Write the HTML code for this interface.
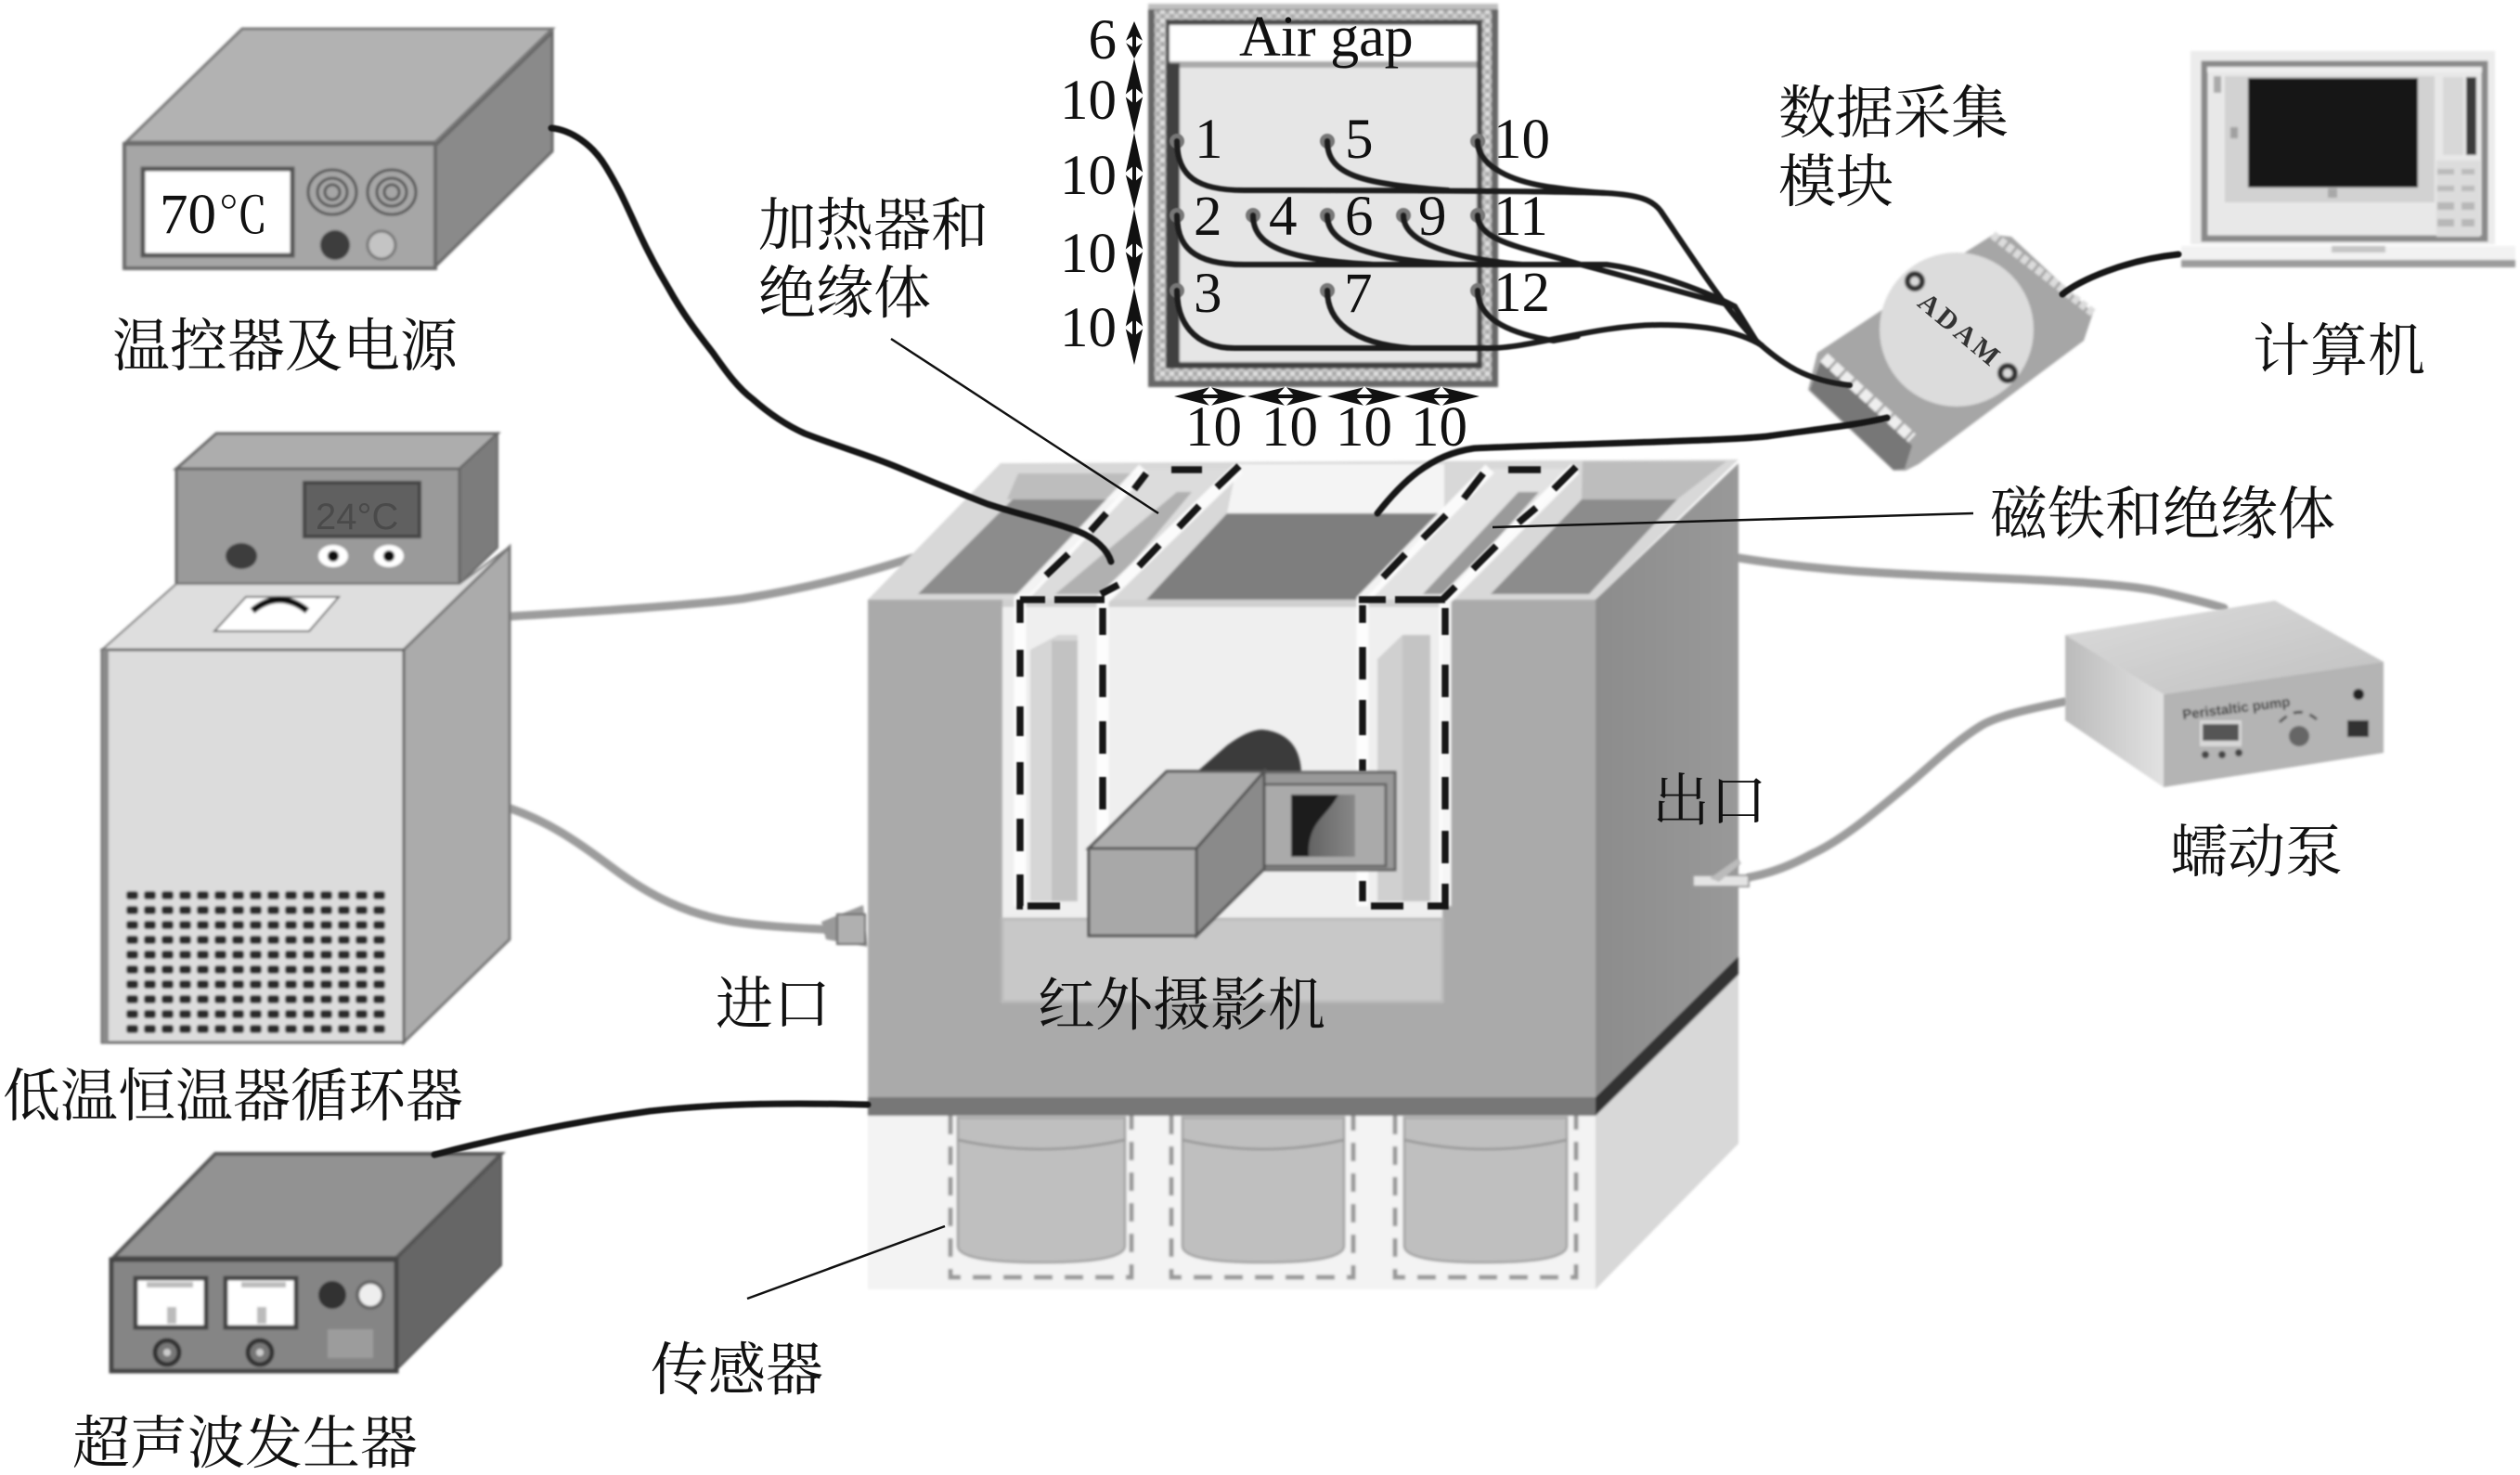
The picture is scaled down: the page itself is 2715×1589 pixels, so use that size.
<!DOCTYPE html>
<html><head><meta charset="utf-8"><style>
html,body{margin:0;padding:0;background:#fff}
svg{display:block}
.z{font-family:"Liberation Serif","Noto Serif CJK SC",serif;font-size:62px;fill:#111}
.d{font-family:"Liberation Serif",serif;font-size:61px;fill:#111}
</style></head><body>
<svg width="2715" height="1589" viewBox="0 0 2715 1589" xmlns="http://www.w3.org/2000/svg">
<defs>
<filter id="b" x="-2%" y="-2%" width="104%" height="104%"><feGaussianBlur stdDeviation="1.3"/></filter>
<filter id="w" filterUnits="userSpaceOnUse" x="0" y="0" width="2715" height="1589"><feGaussianBlur stdDeviation="0.7"/></filter>
<pattern id="h" width="10" height="10" patternUnits="userSpaceOnUse"><rect width="10" height="10" fill="#a8a8a8"/><rect width="5" height="5" fill="#e0e0e0"/><rect x="5" y="5" width="5" height="5" fill="#d0d0d0"/></pattern>
<pattern id="g" x="133" y="957" width="19" height="16" patternUnits="userSpaceOnUse"><rect x="3" y="3" width="13" height="9" rx="3" fill="#2a2a2a"/></pattern>
<linearGradient id="s1" x1="0" x2="1" y1="0" y2="0"><stop offset="0" stop-color="#8c8c8c"/><stop offset="1" stop-color="#999"/></linearGradient>
<linearGradient id="scr" x1="0" x2="1" y1="0" y2="0"><stop offset="0" stop-color="#555"/><stop offset="1" stop-color="#888"/></linearGradient>
<linearGradient id="pt" x1="0" x2="1" y1="0" y2="1"><stop offset="0" stop-color="#dcdcdc"/><stop offset="1" stop-color="#c0c0c0"/></linearGradient>
<linearGradient id="pl" x1="0" x2="1" y1="0" y2="0"><stop offset="0" stop-color="#bbb"/><stop offset="1" stop-color="#e2e2e2"/></linearGradient>
</defs>
<rect width="2715" height="1589" fill="#fff"/>

<g filter="url(#b)">
<!-- hoses behind equipment -->
<g fill="none" stroke="#9c9c9c" stroke-width="9" stroke-linecap="round">
<path d="M550,664 C650,658 745,652 800,645 C880,632 940,615 995,597"/>
<path d="M550,871 C590,885 620,905 660,935 C700,965 740,985 790,993 C830,999 870,1000 905,1002"/>
<path d="M1873,601 C1960,615 2040,618 2108,621 C2200,625 2290,628 2330,638 C2360,645 2380,650 2396,655"/>
<path d="M2224,756 C2180,765 2150,772 2134,782 C2105,800 2080,825 2056,845 C2020,875 1985,905 1952,920 C1930,932 1910,940 1885,945"/>
</g>

<!-- Temperature controller -->
<polygon points="136,153 261,31 595,31 469,153" fill="#b2b2b2" stroke="#777" stroke-width="3"/>
<polygon points="469,157 595,35 595,163 469,287" fill="#8a8a8a" stroke="#666" stroke-width="3"/>
<rect x="134" y="155" width="335" height="134" fill="#a6a6a6" stroke="#6a6a6a" stroke-width="4"/>
<rect x="154" y="182" width="161" height="93" fill="#fff" stroke="#555" stroke-width="5"/>
<g fill="none" stroke="#555" stroke-width="3">
<ellipse cx="358" cy="207" rx="26" ry="24"/><ellipse cx="358" cy="207" rx="16" ry="15"/><ellipse cx="358" cy="207" rx="8" ry="8"/>
<ellipse cx="422" cy="207" rx="26" ry="24"/><ellipse cx="422" cy="207" rx="16" ry="15"/><ellipse cx="422" cy="207" rx="8" ry="8"/>
</g>
<circle cx="361" cy="264" r="16" fill="#3c3c3c"/>
<circle cx="411" cy="264" r="15" fill="#c4c4c4" stroke="#777" stroke-width="3"/>

<!-- Chiller -->
<polygon points="190,505 233,467 536,467 495,505" fill="#adadad" stroke="#666" stroke-width="3"/>
<polygon points="495,505 536,467 536,590 495,629" fill="#7c7c7c" stroke="#666" stroke-width="2"/>
<rect x="190" y="505" width="305" height="124" fill="#9a9a9a" stroke="#666" stroke-width="3"/>
<rect x="328" y="520" width="124" height="58" fill="#606060" stroke="#444" stroke-width="4"/>
<ellipse cx="260" cy="599" rx="17" ry="14" fill="#3c3c3c"/>
<ellipse cx="359" cy="599" rx="16" ry="12" fill="#fff"/><circle cx="359" cy="599" r="6" fill="#111"/>
<ellipse cx="419" cy="599" rx="16" ry="12" fill="#fff"/><circle cx="419" cy="599" r="6" fill="#111"/>
<polygon points="110,700 190,629 495,629 549,589 435,700" fill="#dedede" stroke="#777" stroke-width="2"/>
<polygon points="435,700 549,589 549,1012 435,1123" fill="#ababab" stroke="#777" stroke-width="3"/>
<rect x="110" y="700" width="325" height="423" fill="#dcdcdc" stroke="#666" stroke-width="3"/>
<rect x="110" y="700" width="7" height="423" fill="#8a8a8a"/>
<polygon points="231,680 265,643 365,643 333,680" fill="#fff" stroke="#666" stroke-width="2"/>
<path d="M272,658 Q301,634 331,658" fill="none" stroke="#111" stroke-width="7"/>
<rect x="133" y="957" width="285" height="160" fill="url(#g)"/>

<!-- Ultrasonic generator -->
<polygon points="122,1355 232,1243 540,1243 427,1355" fill="#929292" stroke="#555" stroke-width="4"/>
<polygon points="427,1357 540,1245 540,1363 427,1476" fill="#666" stroke="#555" stroke-width="2"/>
<rect x="120" y="1357" width="307" height="120" fill="#858585" stroke="#444" stroke-width="5"/>
<rect x="146" y="1377" width="76" height="53" fill="#fff" stroke="#444" stroke-width="5"/>
<rect x="243" y="1377" width="76" height="53" fill="#fff" stroke="#444" stroke-width="5"/>
<rect x="158" y="1381" width="50" height="6" fill="#bbb"/><rect x="260" y="1381" width="48" height="6" fill="#bbb"/>
<rect x="180" y="1408" width="10" height="18" fill="#bbb"/><rect x="277" y="1408" width="10" height="18" fill="#bbb"/>
<circle cx="358" cy="1395" r="15" fill="#333"/>
<circle cx="399" cy="1395" r="14" fill="#eee" stroke="#666" stroke-width="4"/>
<circle cx="180" cy="1457" r="13" fill="#777" stroke="#333" stroke-width="5"/><circle cx="180" cy="1457" r="4" fill="#ccc"/>
<circle cx="280" cy="1457" r="13" fill="#777" stroke="#333" stroke-width="5"/><circle cx="280" cy="1457" r="4" fill="#ccc"/>
<rect x="353" y="1432" width="49" height="31" fill="#9c9c9c"/>

<!-- Main tank lower -->
<rect x="935" y="1200" width="784" height="189" fill="#f3f3f3"/>
<polygon points="1719,1200 1873,1035 1873,1232 1719,1389" fill="#d8d8d8"/>
<g fill="#bfbfbf" stroke="#a8a8a8" stroke-width="3">
<path d="M1032,1204 H1212 V1342 Q1212,1360 1122,1360 Q1032,1360 1032,1342 Z"/>
<path d="M1274,1204 H1448 V1342 Q1448,1360 1361,1360 Q1274,1360 1274,1342 Z"/>
<path d="M1513,1204 H1688 V1342 Q1688,1360 1600,1360 Q1513,1360 1513,1342 Z"/>
</g>
<g fill="none" stroke="#9c9c9c" stroke-width="3">
<path d="M1032,1228 Q1122,1248 1212,1228"/><path d="M1274,1228 Q1361,1248 1448,1228"/><path d="M1513,1228 Q1600,1248 1688,1228"/>
</g>
<g fill="none" stroke="#9a9a9a" stroke-width="5" stroke-dasharray="20 13">
<path d="M1024,1202 V1376 H1219 V1202"/><path d="M1262,1202 V1376 H1458 V1202"/><path d="M1503,1202 V1376 H1698 V1202"/>
</g>

<!-- Main tank top -->
<polygon points="935,646 1078,499 1873,495 1719,646" fill="#d8d8d8"/>
<polygon points="1097,510 1240,510 1203,538 1085,538" fill="#bdbdbd"/>
<polygon points="989,640 1091,538 1203,538 1110,640" fill="#8c8c8c"/>
<polygon points="1333,500 1556,500 1556,553 1322,553" fill="#f4f4f4"/>
<polygon points="1235,646 1322,553 1555,553 1470,646" fill="#7e7e7e"/>
<polygon points="1705,497 1860,497 1807,538 1704,538" fill="#bdbdbd"/>
<polygon points="1606,640 1704,538 1807,538 1712,640" fill="#8c8c8c"/>
<polygon points="1104,646 1232,505 1334,505 1200,646" fill="#dcdcdc"/>
<polygon points="1137,640 1192,640 1284,530 1268,530" fill="#b0b0b0"/>
<polygon points="1474,646 1608,505 1700,505 1560,646" fill="#e2e2e2"/>
<polygon points="1533,640 1560,640 1658,530 1636,530" fill="#9a9a9a"/>
<polygon points="1873,499 1719,646 1719,1182 1873,1030" fill="url(#s1)"/>
<polygon points="1719,1182 1873,1030 1873,1050 1719,1202" fill="#333"/>
<path d="M935,646 H1080 V1079 H1554 V646 H1719 V1182 H935 Z" fill="#aaaaaa"/>
<rect x="935" y="1182" width="784" height="20" fill="#777"/>
<rect x="1080" y="646" width="474" height="345" fill="#efefef"/>
<rect x="1080" y="646" width="474" height="8" fill="#d0d0d0"/>
<rect x="1080" y="990" width="474" height="89" fill="#c8c8c8" stroke="#bbb" stroke-width="3"/>
<polygon points="1110,700 1140,684 1161,684 1161,971 1110,971" fill="#d6d6d6"/><rect x="1133" y="690" width="28" height="281" fill="#c2c2c2"/>
<polygon points="1484,710 1511,684 1541,684 1541,971 1484,971" fill="#d0d0d0"/><rect x="1511" y="684" width="30" height="287" fill="#c4c4c4"/>
<g fill="none" stroke="#fff" stroke-width="13" opacity=".9">
<path d="M1099,976 V646 L1232,505"/><path d="M1188,976 V646 L1334,505"/>
<path d="M1468,976 V646 L1605,505"/><path d="M1557,976 V646 L1697,505"/>
</g>
</g>

<g fill="none" stroke="#151515" stroke-width="7.5" filter="url(#w)">
<path d="M1099,646 V671 M1099,700 V729 M1099,761 V793 M1099,821 V856 M1099,882 V917 M1099,942 V976 H1102"/>
<path d="M1107,976 H1142"/>
<path d="M1188,655 V684 M1188,716 V751 M1188,777 V812 M1188,837 V872"/>
<path d="M1468,652 V671 M1468,697 V732 M1468,754 V792 M1468,818 V831 M1468,949 V971"/>
<path d="M1477,976 H1512 M1538,976 H1557 V952 M1557,930 V895 M1557,872 V837 M1557,812 V777 M1557,751 V716 M1557,684 V655"/>
<path d="M1099,646 H1126 M1136,646 H1190 M1464,646 H1493 M1503,646 H1557"/>
<path d="M1127,620 L1151,597 M1175,572 L1192,553 M1222,527 L1235,510 M1262,506 H1295"/>
<path d="M1186,640 L1205,630 M1227,610 L1249,587 M1270,568 L1292,545 M1311,525 L1335,502"/>
<path d="M1490,622 L1514,597 M1533,580 L1558,555 M1577,537 L1598,510 M1625,506 H1660"/>
<path d="M1555,645 L1568,632 M1587,613 L1612,588 M1636,563 L1655,547 M1674,527 L1698,503"/>
</g>

<g filter="url(#b)">
<!-- Camera -->
<path d="M1289,832 L1322,803 Q1345,786 1360,786 Q1400,790 1402,832 Z" fill="#3a3a3a"/>
<rect x="1356" y="832" width="147" height="105" fill="#999" stroke="#666" stroke-width="3"/>
<rect x="1359" y="845" width="134" height="88" fill="#aaa" stroke="#666" stroke-width="3"/>
<rect x="1391" y="856" width="69" height="67" fill="url(#scr)"/>
<path d="M1391,856 H1442 C1430,880 1408,885 1410,923 H1391 Z" fill="#1e1e1e"/>
<polygon points="1173,914 1257,831 1362,831 1289,914" fill="#acacac" stroke="#555" stroke-width="3"/>
<polygon points="1289,914 1362,831 1362,936 1289,1008" fill="#8a8a8a" stroke="#555" stroke-width="3"/>
<rect x="1173" y="914" width="116" height="94" fill="#a8a8a8" stroke="#555" stroke-width="3"/>
<!-- connectors -->
<polygon points="885,993 930,975 935,1020 890,1012" fill="#9a9a9a"/>
<rect x="902" y="985" width="30" height="32" fill="#b0b0b0" stroke="#666" stroke-width="2"/>
<rect x="1824" y="943" width="60" height="12" fill="#e4e4e4" stroke="#999" stroke-width="2"/>
<polygon points="1842,946 1872,925 1876,930 1852,950" fill="#bbb"/>

<!-- Pump -->
<polygon points="2225,684 2451,647 2568,713 2331,748" fill="url(#pt)"/>
<polygon points="2225,684 2331,748 2331,848 2225,776" fill="url(#pl)"/>
<polygon points="2331,748 2568,713 2568,811 2331,848" fill="#b4b4b4"/>
<rect x="2370" y="776" width="45" height="28" fill="#d8d8d8"/><rect x="2373" y="780" width="39" height="18" fill="#555"/>
<circle cx="2376" cy="813" r="4" fill="#444"/><circle cx="2394" cy="813" r="4" fill="#444"/><circle cx="2412" cy="811" r="4" fill="#444"/>
<path d="M2456,778 Q2476,758 2496,775" fill="none" stroke="#555" stroke-width="3" stroke-dasharray="10 8"/>
<circle cx="2477" cy="793" r="11" fill="#666"/>
<circle cx="2541" cy="748" r="6" fill="#222"/>
<rect x="2529" y="776" width="23" height="18" fill="#333"/>
<text x="2352" y="775" transform="rotate(-7 2352 775)" font-family="Liberation Sans,sans-serif" font-weight="700" font-size="15" fill="#333">Peristaltic pump</text>

<!-- Laptop -->
<rect x="2360" y="55" width="328" height="208" fill="#ececec"/>
<rect x="2375" y="69" width="302" height="188" fill="#e8e8e8" stroke="#8a8a8a" stroke-width="7"/>
<rect x="2378" y="72" width="296" height="6" fill="#eee"/>
<rect x="2397" y="82" width="226" height="136" fill="#d2d2d2"/>
<rect x="2422" y="84" width="183" height="118" fill="#181818"/>
<rect x="2632" y="83" width="22" height="84" fill="#d8d8d8"/>
<rect x="2657" y="83" width="11" height="84" fill="#3a3a3a"/>
<rect x="2625" y="173" width="47" height="82" fill="#dcdcdc"/>
<rect x="2626" y="182" width="18" height="6" fill="#bbb"/><rect x="2652" y="182" width="14" height="6" fill="#bbb"/>
<rect x="2626" y="200" width="18" height="6" fill="#bbb"/><rect x="2652" y="200" width="14" height="6" fill="#bbb"/>
<rect x="2626" y="218" width="18" height="8" fill="#b8b8b8"/><rect x="2652" y="218" width="14" height="8" fill="#b8b8b8"/>
<rect x="2626" y="236" width="18" height="8" fill="#b8b8b8"/><rect x="2652" y="236" width="14" height="8" fill="#b8b8b8"/>
<rect x="2385" y="82" width="8" height="18" fill="#aaa"/>
<rect x="2403" y="137" width="8" height="12" fill="#a0a0a0"/>
<rect x="2508" y="203" width="10" height="10" fill="#a8a8a8"/>
<rect x="2350" y="265" width="360" height="15" fill="#f2f2f2"/>
<rect x="2350" y="280" width="360" height="8" fill="#9c9c9c"/>
<rect x="2512" y="265" width="58" height="7" fill="#c4c4c4"/>

<!-- ADAM -->
<polygon points="2117,272 2147,253 2167,255 2255,337 2245,367 2067,500 2053,507 2040,507 1948,420 1958,380 2023,337" fill="#a6a6a6"/>
<polygon points="1950,420 1962,388 2060,480 2052,505 2040,506" fill="#777"/>
<line x1="1965" y1="385" x2="2060" y2="472" stroke="#eee" stroke-width="12" stroke-dasharray="11 3"/>
<line x1="2147" y1="253" x2="2255" y2="337" stroke="#dcdcdc" stroke-width="9" stroke-dasharray="7 3"/>
<circle cx="2108" cy="355" r="83" fill="#dcdcdc"/>
<circle cx="2063" cy="303" r="8" fill="#d8d8d8" stroke="#333" stroke-width="6"/>
<circle cx="2163" cy="402" r="8" fill="#d8d8d8" stroke="#333" stroke-width="6"/>
</g>
<text x="2110" y="364" text-anchor="middle" transform="rotate(40 2110 355)" font-family="Liberation Serif,serif" font-weight="700" font-size="30" fill="#333" textLength="104">ADAM</text>

<!-- Sensor panel -->
<g filter="url(#b)">
<rect x="1237" y="4" width="377" height="413" fill="#666"/>
<rect x="1237" y="4" width="377" height="6" fill="#c0c0c0"/>
<rect x="1244" y="11" width="363" height="399" fill="url(#h)"/>
<rect x="1256" y="21" width="341" height="376" fill="#4a4a4a"/>
<rect x="1260" y="27" width="331" height="39" fill="#fff"/>
<rect x="1260" y="66" width="331" height="7" fill="#aaa"/>
<rect x="1260" y="73" width="331" height="317" fill="#e6e6e6"/>
<rect x="1256" y="68" width="15" height="329" fill="#404040"/>
<rect x="1256" y="390" width="341" height="7" fill="#404040"/>
</g>
<g fill="#777" filter="url(#w)"><circle cx="1268" cy="152" r="8"/><circle cx="1430" cy="152" r="8"/><circle cx="1592" cy="152" r="8"/>
<circle cx="1268" cy="232" r="8"/><circle cx="1350" cy="232" r="8"/><circle cx="1430" cy="232" r="8"/><circle cx="1512" cy="232" r="8"/><circle cx="1592" cy="232" r="8"/>
<circle cx="1268" cy="313" r="8"/><circle cx="1430" cy="313" r="8"/><circle cx="1592" cy="313" r="8"/></g>
<g fill="none" stroke="#1c1c1c" stroke-width="6" stroke-linecap="round" filter="url(#w)">
<path d="M1268,152 C1268,190 1290,205 1340,205 C1450,205 1640,205 1731,208 C1765,210 1780,215 1789,227 C1815,265 1860,335 1892,367 C1920,392 1945,410 1993,415"/>
<path d="M1430,152 C1430,190 1470,198 1560,205"/>
<path d="M1592,152 C1592,175 1620,195 1674,202 C1700,206 1715,207 1731,208"/>
<path d="M1268,232 C1268,265 1285,285 1340,285 H1731 C1770,290 1830,310 1869,330 L1892,367"/>
<path d="M1350,232 C1350,265 1385,280 1480,285"/>
<path d="M1430,232 C1430,265 1480,280 1570,285"/>
<path d="M1512,232 C1512,260 1560,278 1640,285"/>
<path d="M1592,232 C1592,262 1650,268 1703,285 C1760,300 1830,320 1869,330"/>
<path d="M1268,313 C1268,345 1285,375 1330,375 H1605 C1650,375 1720,350 1789,350 C1830,350 1870,355 1898,372"/>
<path d="M1430,313 C1430,345 1455,370 1520,375"/>
<path d="M1592,313 C1592,345 1630,360 1674,367 L1700,362"/>
</g>

<!-- Black cables -->
<g fill="none" stroke="#151515" stroke-width="7" stroke-linecap="round" filter="url(#w)">
<path d="M594,138 C615,140 638,155 653,180 C668,205 672,215 685,243 C697,270 708,290 720,310 C735,337 750,357 768,380 C782,400 795,418 811,430 C828,445 847,458 867,467 C900,480 935,490 966,503 C1000,517 1030,530 1064,543 C1100,555 1135,562 1163,573 C1180,580 1193,592 1197,605"/>
<path d="M1484,553 C1510,520 1540,490 1588,483 C1700,478 1860,475 1904,470 C1960,462 2000,458 2033,450"/>
<path d="M2222,317 C2240,302 2290,280 2347,274"/>
<path d="M935,1190 C860,1188 780,1188 700,1197 C620,1208 540,1225 468,1244"/>
</g>

<!-- Leader lines -->
<g stroke="#111" stroke-width="2.5">
<line x1="960" y1="365" x2="1248" y2="553"/>
<line x1="1608" y1="568" x2="2126" y2="553"/>
<line x1="1018" y1="1321" x2="805" y2="1399"/>
</g>

<!-- Dimension arrows -->
<g fill="#111">
<polygon points="1222,23 1231.5,45 1222,63 1212.5,45"/>
<polygon points="1222,63 1231.5,103 1222,143 1212.5,103"/>
<polygon points="1222,143 1231.5,187 1222,225 1212.5,187"/>
<polygon points="1222,225 1231.5,270 1222,310 1212.5,270"/>
<polygon points="1222,310 1231.5,353 1222,393 1212.5,353"/>
<polygon points="1265,427 1304,417 1343,427 1304,437"/>
<polygon points="1344,427 1385,417 1425,427 1385,437"/>
<polygon points="1430,427 1470,417 1510,427 1470,437"/>
<polygon points="1513,427 1553,417 1594,427 1553,437"/>
</g>
<g fill="#fff">
<polygon points="1222,38 1233,45 1222,52 1211,45"/>
<polygon points="1222,94 1233,103 1222,112 1211,103"/>
<polygon points="1222,178 1233,187 1222,196 1211,187"/>
<polygon points="1222,261 1233,270 1222,279 1211,270"/>
<polygon points="1222,344 1233,353 1222,362 1211,353"/>
<polygon points="1294,427 1304,416 1314,427 1304,438"/>
<polygon points="1375,427 1385,416 1395,427 1385,438"/>
<polygon points="1460,427 1470,416 1480,427 1470,438"/>
<polygon points="1543,427 1553,416 1563,427 1553,438"/>
</g>
<g stroke="#111" stroke-width="4">
<path d="M1222,38 V52 M1222,94 V112 M1222,178 V196 M1222,261 V279 M1222,344 V362"/>
<path d="M1294,427 H1314 M1375,427 H1395 M1460,427 H1480 M1543,427 H1563"/>
</g>

<!-- Text -->
<text class="d" x="1335" y="60" style="font-size:62px">Air gap</text>
<text class="d" x="1203" y="63" text-anchor="end">6</text>
<text class="d" x="1203" y="128" text-anchor="end">10</text>
<text class="d" x="1203" y="209" text-anchor="end">10</text>
<text class="d" x="1203" y="293" text-anchor="end">10</text>
<text class="d" x="1203" y="373" text-anchor="end">10</text>
<text class="d" x="1287" y="170">1</text><text class="d" x="1449" y="170">5</text><text class="d" x="1609" y="170">10</text>
<text class="d" x="1286" y="253">2</text><text class="d" x="1367" y="253">4</text><text class="d" x="1449" y="253">6</text><text class="d" x="1528" y="253">9</text><text class="d" x="1609" y="253">11</text>
<text class="d" x="1286" y="336">3</text><text class="d" x="1448" y="336">7</text><text class="d" x="1609" y="335">12</text>
<text class="d" x="1277" y="480">10</text><text class="d" x="1359" y="480">10</text><text class="d" x="1439" y="480">10</text><text class="d" x="1520" y="480">10</text>
<text x="172" y="251" font-family="Liberation Serif,serif" font-size="61" fill="#111">70</text>
<text x="235" y="251" font-family="Noto Serif CJK SC,serif" font-size="54" fill="#111">℃</text>
<text x="340" y="570" font-family="Liberation Sans,sans-serif" font-size="40" fill="#4a4a4a">24°C</text>

<text class="z" x="121" y="394">温控器及电源</text>
<text class="z" x="3" y="1202">低温恒温器循环器</text>
<text class="z" x="78" y="1576">超声波发生器</text>
<text class="z" x="817" y="264">加热器和</text>
<text class="z" x="817" y="337">绝缘体</text>
<text class="z" x="1916" y="143">数据采集</text>
<text class="z" x="1916" y="217">模块</text>
<text class="z" x="2427" y="399">计算机</text>
<text class="z" x="2144" y="575">磁铁和绝缘体</text>
<text class="z" x="2338" y="939">蠕动泵</text>
<text class="z" x="1780" y="884">出口</text>
<text class="z" x="771" y="1103">进口</text>
<text class="z" x="1118" y="1104">红外摄影机</text>
<text class="z" x="701" y="1497">传感器</text>
</svg>
</body></html>
